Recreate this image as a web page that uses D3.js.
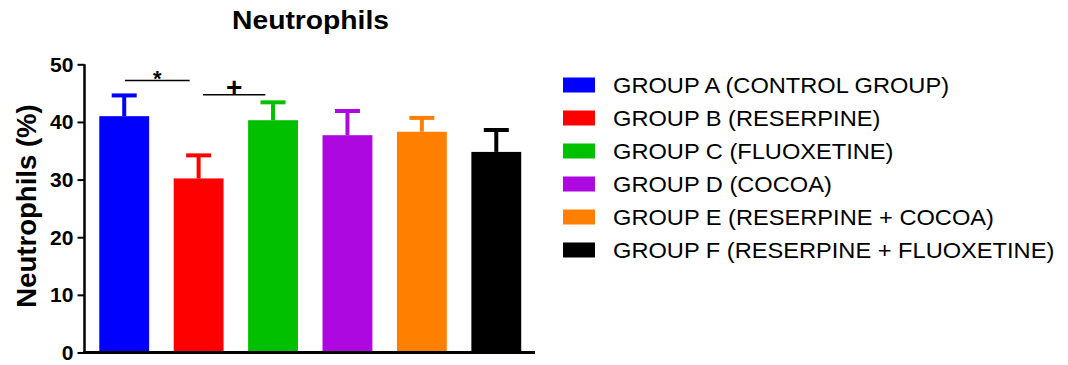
<!DOCTYPE html>
<html lang="en">
<head>
    <meta charset="UTF-8">
    <title>Neutrophils</title>
    <script src="https://d3js.org/d3.v7.min.js"></script>
    <style>
        body {
            margin: 0;
            padding: 0;
            background-color: #ffffff;
            font-family: 'Liberation Sans', Arial, sans-serif;
        }
        svg text {
            fill: #000000;
        }
    </style>
</head>
<body>
    <svg id="chart" width="1068" height="365"></svg>

    <script>
        // group data (mean and upper SEM bar, in %)
        const groups = ['A', 'B', 'C', 'D', 'E', 'F'];
        const legendLabels = [
            'GROUP A (CONTROL GROUP)',
            'GROUP B (RESERPINE)',
            'GROUP C (FLUOXETINE)',
            'GROUP D (COCOA)',
            'GROUP E (RESERPINE + COCOA)',
            'GROUP F (RESERPINE + FLUOXETINE)'
        ];
        const means = [41.0, 30.2, 40.3, 37.7, 38.3, 34.8];
        const errorTops = [44.6, 34.2, 43.4, 41.9, 40.7, 38.6];
        const colors = ['#0000ff', '#ff0000', '#00c000', '#ae08e0', '#ff8000', '#000000'];
        const yTicks = [0, 10, 20, 30, 40, 50];

        // significance brackets
        const brackets = [
            { from: 'A', to: 'B', level: 47.2, mark: '*' },
            { from: 'B', to: 'C', level: 44.7, mark: '+' }
        ];

        const svg = d3.select('#chart');

        const x = d3.scaleBand()
            .domain(groups)
            .range([87, 533.5])
            .paddingInner(0.33)
            .paddingOuter(0.165);

        const y = d3.scaleLinear()
            .domain([0, 50])
            .range([352.5, 64.3]);

        // stretch text horizontally, the original fonts run wider than Arial
        function widen(sel, factor) {
            sel.each(function () {
                const w = this.getComputedTextLength();
                d3.select(this)
                    .attr('textLength', w * factor)
                    .attr('lengthAdjust', 'spacingAndGlyphs');
            });
        }

        // title
        svg.append('text')
            .attr('x', 310.5)
            .attr('y', 29)
            .attr('text-anchor', 'middle')
            .attr('font-size', 25)
            .attr('font-weight', 'bold')
            .text('Neutrophils')
            .call(widen, 1.13);

        // y axis label
        svg.append('text')
            .attr('transform', 'translate(36,206) rotate(-90)')
            .attr('text-anchor', 'middle')
            .attr('font-size', 27)
            .attr('font-weight', 'bold')
            .text('Neutrophils (%)')
            .call(widen, 1.02);

        // bars
        svg.append('g')
            .selectAll('rect')
            .data(groups)
            .join('rect')
            .attr('x', d => x(d))
            .attr('y', (d, i) => y(means[i]))
            .attr('width', x.bandwidth())
            .attr('height', (d, i) => y(0) - y(means[i]))
            .attr('fill', (d, i) => colors[i]);

        // error bars (upper only)
        const err = svg.append('g')
            .selectAll('g')
            .data(groups)
            .join('g')
            .attr('stroke', (d, i) => colors[i])
            .attr('stroke-width', 4);

        err.append('line')
            .attr('x1', d => x(d) + x.bandwidth() / 2)
            .attr('x2', d => x(d) + x.bandwidth() / 2)
            .attr('y1', (d, i) => y(means[i]))
            .attr('y2', (d, i) => y(errorTops[i]));

        err.append('line')
            .attr('x1', d => x(d) + x.bandwidth() / 2 - 12.5)
            .attr('x2', d => x(d) + x.bandwidth() / 2 + 12.5)
            .attr('y1', (d, i) => y(errorTops[i]))
            .attr('y2', (d, i) => y(errorTops[i]));

        // y axis
        const yAxis = svg.append('g')
            .attr('transform', 'translate(84.5,0)')
            .call(d3.axisLeft(y).tickValues(yTicks).tickSize(7).tickPadding(4));

        yAxis.select('.domain')
            .attr('d', `M0,${y(50)}V${y(0) + 1.5}`)
            .attr('stroke', '#000')
            .attr('stroke-width', 2.5);
        yAxis.selectAll('.tick line')
            .attr('stroke', '#000')
            .attr('stroke-width', 2);
        yAxis.selectAll('.tick text')
            .attr('font-family', "'Liberation Sans', Arial, sans-serif")
            .attr('font-size', 19.5)
            .attr('font-weight', 'bold')
            .attr('dy', '0.36em')
            .call(widen, 1.08);

        // x axis baseline
        svg.append('line')
            .attr('x1', 83.3)
            .attr('x2', 535)
            .attr('y1', y(0))
            .attr('y2', y(0))
            .attr('stroke', '#000')
            .attr('stroke-width', 3);

        // significance brackets
        const mid = d => x(d) + x.bandwidth() / 2;
        const bracketInset = [[0.7, -9], [4.4, -7.7]];

        brackets.forEach((b, i) => {
            const x1 = mid(b.from) + bracketInset[i][0];
            const x2 = mid(b.to) + bracketInset[i][1];
            svg.append('line')
                .attr('x1', x1)
                .attr('x2', x2)
                .attr('y1', y(b.level))
                .attr('y2', y(b.level))
                .attr('stroke', '#000')
                .attr('stroke-width', 1.5);
            svg.append('text')
                .attr('x', (x1 + x2) / 2)
                .attr('y', y(b.level) + (b.mark === '*' ? 6 : 2))
                .attr('text-anchor', 'middle')
                .attr('font-size', b.mark === '*' ? 22 : 28)
                .attr('font-weight', 'bold')
                .text(b.mark);
        });

        // legend
        const legend = svg.append('g')
            .selectAll('g')
            .data(legendLabels)
            .join('g')
            .attr('transform', (d, i) => `translate(563,${77.5 + i * 33})`);

        legend.append('rect')
            .attr('width', 32)
            .attr('height', 15)
            .attr('fill', (d, i) => colors[i]);

        legend.append('text')
            .attr('x', 50)
            .attr('y', 15.5)
            .attr('font-size', 22.5)
            .text(d => d)
            .call(widen, 1.05);
    </script>
</body>
</html>
